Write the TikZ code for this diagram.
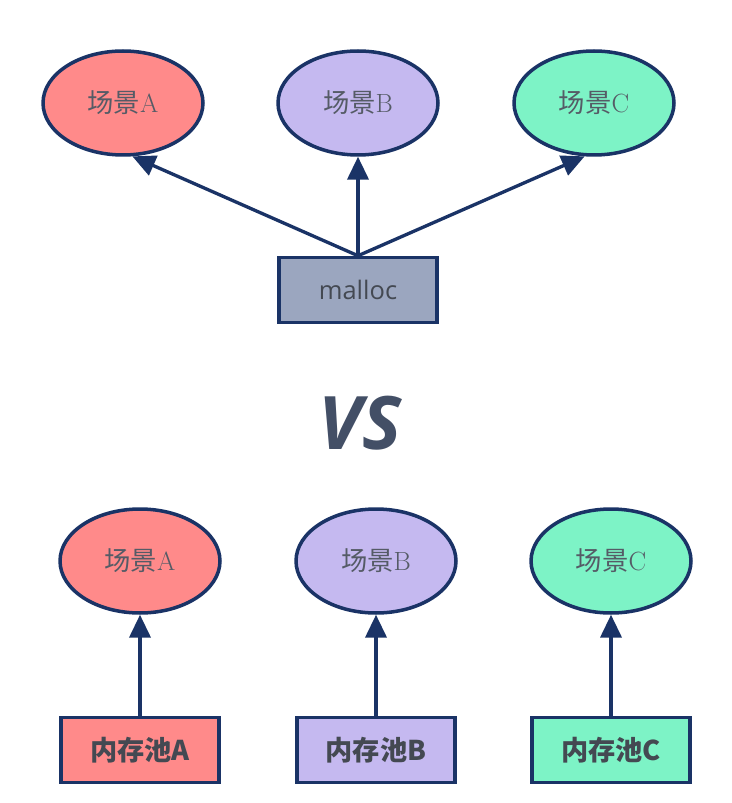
\documentclass[tikz,border=0pt]{standalone}
\usepackage{fontspec}
\usepackage{xcolor}
\usetikzlibrary{arrows.meta,shapes.geometric}
\newfontfamily\cjk{Noto Sans CJK SC}
\newfontfamily\vsfont{Open Sans}
\definecolor{navy}{HTML}{1A3366}
\definecolor{redA}{HTML}{FF8A8A}
\definecolor{purpleB}{HTML}{C5B9F0}
\definecolor{greenC}{HTML}{7DF3C6}
\definecolor{mallocgray}{HTML}{9BA6BF}
\definecolor{textgray}{HTML}{555B66}

\begin{document}
\begin{tikzpicture}[x=0.02cm, y=-0.02cm,
  scene/.style={ellipse, draw=navy, line width=2pt, minimum width=3.2cm, minimum height=2.08cm,
    text=textgray, font=\fontsize{15}{17}\selectfont},
  pool/.style={rectangle, draw=navy, line width=2pt, minimum width=3.16cm, minimum height=1.3cm,
    text=textgray!80!black, font=\cjk\bfseries\fontsize{15.5}{17}\selectfont},
  link/.style={draw=navy, line width=1.9pt, -{Triangle[width=12pt,length=13pt]}}]
\useasboundingbox (0,0) rectangle (731,803);
%%%%% malloc %%%%%
\node[scene, fill=redA] (sa) at (123,103) {{\cjk 场景}A};
\node[scene, fill=purpleB] (sb) at (358,103) {{\cjk 场景}B};
\node[scene, fill=greenC] (sc) at (594,103) {{\cjk 场景}C};
\node[pool, fill=mallocgray, font=\vsfont\fontsize{14.5}{16}\selectfont] (malloc) at (358,290) {malloc};
\draw[link] (malloc.north) -- (sa.-80);
\draw[link] (malloc.north) -- (sb.south);
\draw[link] (malloc.north) -- (sc.-100);
%%%%% VS %%%%%
\node[text=textgray!70!navy, font=\vsfont\bfseries\itshape\fontsize{42}{44}\selectfont] (vs) at (360,423) {VS};
%%%%% memory pools %%%%%
\foreach \x/\c/\l in {140/redA/A, 376/purpleB/B, 611/greenC/C}{
\node[scene, fill=\c] (s\l) at (\x,561) {{\cjk 场景}\l};
\node[pool, fill=\c] (p\l) at (\x,750) {内存池\l};
\draw[link] (p\l.north) -- (s\l.south);
}
\end{tikzpicture}
\end{document}
